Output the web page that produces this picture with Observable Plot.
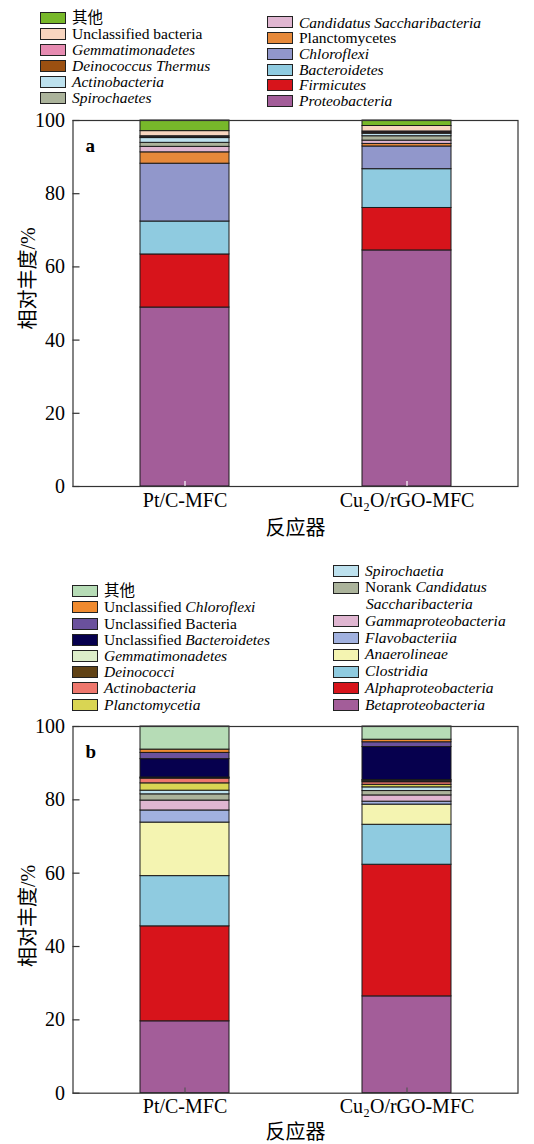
<!DOCTYPE html>
<html><head><meta charset="utf-8">
<script src="https://cdn.jsdelivr.net/npm/d3@7"></script>
<script src="https://cdn.jsdelivr.net/npm/@observablehq/plot@0.6"></script>
<style>
body{margin:0;background:#fff;width:534px;height:1144px;position:relative;overflow:hidden;font-family:"Liberation Serif","Noto Sans CJK SC",serif;}
.leg{position:absolute;font-size:15.5px;color:#000;z-index:2;}
.leg i{font-family:"Liberation Serif",serif;font-style:italic;}
.row{display:flex;align-items:center;white-space:nowrap;}
.sw{width:24px;height:10px;border:1.5px solid #222;margin-right:6px;flex:none;}
.nosw{width:27px;margin-right:6px;flex:none;}
.tx{display:inline-block;overflow:visible;}
.plot{position:absolute;left:0;z-index:1;}
</style></head><body>
<script>
// ---------- data ----------
const reactors = ["Pt/C-MFC", "Cu₂O/rGO-MFC"];
const yTicks = [0, 20, 40, 60, 80, 100];

// (a) phylum level, stacked bottom -> top
const phylaA = ["Proteobacteria", "Firmicutes", "Bacteroidetes", "Chloroflexi", "Planctomycetes",
  "Candidatus Saccharibacteria", "Spirochaetes", "Actinobacteria", "Deinococcus Thermus",
  "Gemmatimonadetes", "Unclassified bacteria", "其他"];
const phylaALabels = ["<i>Proteobacteria</i>", "<i>Firmicutes</i>", "<i>Bacteroidetes</i>", "<i>Chloroflexi</i>", "Planctomycetes",
  "<i>Candidatus Saccharibacteria</i>", "<i>Spirochaetes</i>", "<i>Actinobacteria</i>", "<i>Deinococcus Thermus</i>",
  "<i>Gemmatimonadetes</i>", "Unclassified bacteria", "其他"];
const phylaAColors = ["#a35d99", "#d7141b", "#8fcbe0", "#9197cb", "#e6893a",
  "#e0b6d1", "#abb39b", "#bde1ee", "#9b5011", "#e68bb1", "#f8d5bf", "#77b82a"];
const ptcA = [48.9, 14.5, 9.0, 15.8, 3.1, 1.5, 1.1, 1.3, 0.2, 0.3, 1.4, 2.9];
const cuA  = [64.5, 11.6, 10.6, 6.2, 0.7, 0.9, 1.2, 0.7, 0.3, 0.3, 1.5, 1.5];

// (b) class level, stacked bottom -> top
const classesB = ["Betaproteobacteria", "Alphaproteobacteria", "Clostridia", "Anaerolineae", "Flavobacteriia",
  "Gammaproteobacteria", "Norank Candidatus Saccharibacteria", "Spirochaetia", "Planctomycetia",
  "Actinobacteria", "Deinococci", "Gemmatimonadetes", "Unclassified Bacteroidetes",
  "Unclassified Bacteria", "Unclassified Chloroflexi", "其他"];
const classesBLabels = ["<i>Betaproteobacteria</i>", "<i>Alphaproteobacteria</i>", "<i>Clostridia</i>", "<i>Anaerolineae</i>", "<i>Flavobacteriia</i>",
  "<i>Gammaproteobacteria</i>", "Norank <i>Candidatus</i>|<i>Saccharibacteria</i>", "<i>Spirochaetia</i>", "<i>Planctomycetia</i>",
  "<i>Actinobacteria</i>", "<i>Deinococci</i>", "<i>Gemmatimonadetes</i>", "Unclassified <i>Bacteroidetes</i>",
  "Unclassified Bacteria", "Unclassified <i>Chloroflexi</i>", "其他"];
const classesBColors = ["#a35d99", "#d7141b", "#8fcbe0", "#f4f4b1", "#a1b1df",
  "#e0b6d1", "#abb39b", "#bde1ee", "#d9d553", "#ee776d", "#604215", "#dcedc9",
  "#06004e", "#6a519c", "#ef8a2f", "#b6dcb6"];
const ptcB = [19.6, 25.9, 13.7, 14.6, 3.3, 2.7, 1.7, 1.0, 2.0, 1.3, 0.1, 0.2, 5.0, 1.7, 0.9, 6.3];
const cuB  = [26.4, 35.9, 10.9, 5.5, 0.8, 1.7, 1.2, 1.0, 0.7, 0.7, 0.3, 0.3, 9.0, 1.3, 0.7, 3.6];

// ---------- legend ----------
function legendColumn(indices, labels, colors, left, firstCenter, step) {
  const col = document.createElement("div");
  col.className = "leg";
  col.style.left = left + "px";
  col.style.top = (firstCenter - step / 2) + "px";
  indices.forEach(i => {
    const parts = labels[i].split("|");
    parts.forEach((p, k) => {
      const row = document.createElement("div");
      row.className = "row";
      row.style.height = step + "px";
      const sw = document.createElement("span");
      if (k === 0) { sw.className = "sw"; sw.style.background = colors[i]; }
      else sw.className = "nosw";
      const tx = document.createElement("span");
      tx.className = "tx";
      tx.style.height = step + "px";
      tx.style.lineHeight = step + "px";
      tx.innerHTML = p;
      row.appendChild(sw); row.appendChild(tx);
      col.appendChild(row);
    });
  });
  document.body.appendChild(col);
}

// ---------- chart ----------
function makeChart(taxa, colors, series, letter, top, height, marginBottom, tickColor, xLabelOffset, yLabelDy) {
  const data = [];
  reactors.forEach((r, i) => taxa.forEach((t, j) => data.push({reactor: r, taxon: t, value: series[i][j]})));
  const fw = 534 - 72.5 - 16.5;
  const chart = Plot.plot({
    width: 534, height,
    marginLeft: 72.5, marginRight: 16.5, marginTop: 15, marginBottom,
    style: {fontFamily: '"Liberation Serif","Noto Sans CJK SC",serif', fontSize: "20px", background: "transparent", color: "#000"},
    x: {domain: reactors, paddingInner: 0.6, paddingOuter: 0.3},
    y: {domain: [0, 100]},
    color: {domain: taxa, range: colors},
    marks: [
      Plot.barY(data, Plot.stackY({x: "reactor", y: "value", fill: "taxon", stroke: "#1a1a1a", strokeWidth: 1})),
      Plot.ruleX(reactors, {x: d => d, y1: 0, y2: 1.4, stroke: tickColor, strokeWidth: 1.2}),
      Plot.tickY(yTicks, {y: d => d, insetRight: fw - 7, stroke: "#333", strokeWidth: 1.2}),
      Plot.frame({stroke: "#333", strokeWidth: 1.2}),
      Plot.axisY(yTicks, {tickSize: 0, tickPadding: 8, label: null}),
      Plot.axisX({tickSize: 0, tickPadding: 6, label: "反应器", labelAnchor: "center", labelArrow: "none", labelOffset: xLabelOffset}),
      Plot.text(["相对丰度/%"], {frameAnchor: "left", rotate: -90, dx: -44, dy: yLabelDy, fontSize: 20, lineAnchor: "middle", textAnchor: "middle"}),
      Plot.text([letter], {frameAnchor: "top-left", dx: 12.5, dy: 18, fontWeight: "bold", fontSize: 19, textAnchor: "start"})
    ]
  });
  const wrap = document.createElement("div");
  wrap.className = "plot";
  wrap.style.top = top + "px";
  wrap.appendChild(chart);
  document.body.appendChild(wrap);
}

legendColumn([11, 10, 9, 8, 7, 6], phylaALabels, phylaAColors, 40, 17.5, 16);
legendColumn([5, 4, 3, 2, 1, 0], phylaALabels, phylaAColors, 267, 22.5, 15.7);
makeChart(phylaA, phylaAColors, [ptcA, cuA], "a", 105, 15 + 366 + 58, 58, "#ffffff", 48, -25);

legendColumn([15, 14, 13, 12, 11, 10, 9, 8], classesBLabels, classesBColors, 72, 591.3, 16.2);
legendColumn([7, 6, 5, 4, 3, 2, 1, 0], classesBLabels, classesBColors, 333, 571, 16.75);
makeChart(classesB, classesBColors, [ptcB, cuB], "b", 711, 15 + 366.7 + 51, 51, "#555555", 46, 6);
</script></body></html>
